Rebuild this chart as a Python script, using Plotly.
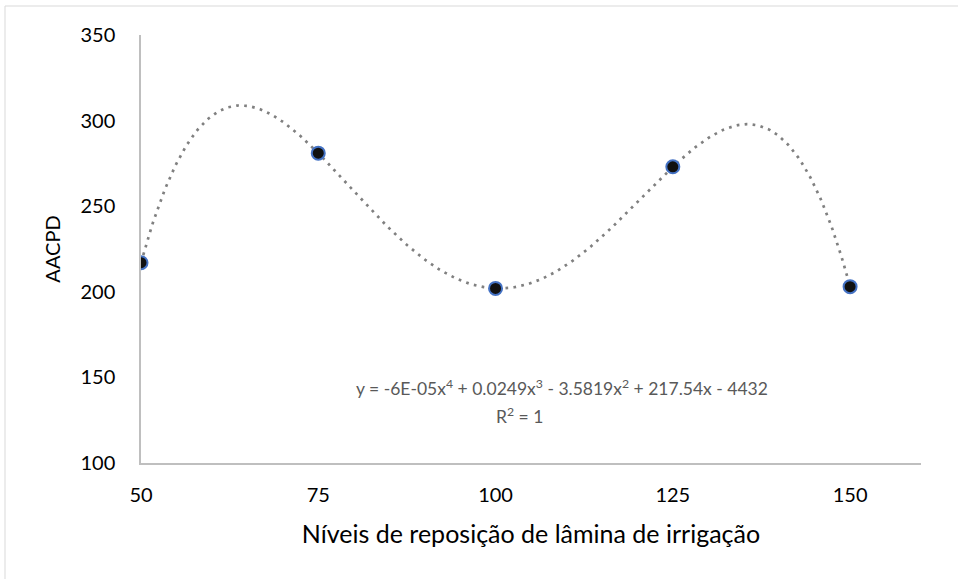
import numpy as np
import plotly.graph_objects as go

# Data
niveis = [50, 75, 100, 125, 150]
aacpd = [217, 281, 202, 273, 203]
y_ticks = [100, 150, 200, 250, 300, 350]
x_ticks = [50, 75, 100, 125, 150]

# Polynomial (order 4) trendline fitted from the data
coef = np.polyfit(niveis, aacpd, 4)
xs = np.linspace(50, 150, 400)
ys = np.polyval(coef, xs)

FONT = "Lato"
L, R, T, B = 141, 37, 35, 116
PW, PH = 958 - L - R, 579 - T - B

fig = go.Figure()
fig.add_trace(go.Scatter(x=xs, y=ys, mode="lines",
                         line=dict(color="#808080", width=2.7, dash="2.7px,5.3px"),
                         hoverinfo="skip", showlegend=False))
fig.add_trace(go.Scatter(x=niveis, y=aacpd, mode="markers",
                         marker=dict(size=13, color="#111111",
                                     line=dict(color="#4472C4", width=2)),
                         showlegend=False))

fig.update_layout(
    width=958, height=579,
    margin=dict(l=L, r=R, t=T, b=B),
    paper_bgcolor="white", plot_bgcolor="white",
    font=dict(family=FONT, size=20, color="#000000"),
    xaxis=dict(range=[50, 160], tickvals=x_ticks, ticktext=[str(v) for v in x_ticks],
               showgrid=False, zeroline=False, showline=True, linecolor="#BFBFBF",
               linewidth=1.5, ticks="", ticklabelstandoff=13, automargin=False,
               title=dict(text="Níveis de reposição de lâmina de irrigação",
                          font=dict(size=25), standoff=21)),
    yaxis=dict(range=[100, 350], tickvals=y_ticks, showgrid=False, zeroline=False,
               showline=True, linecolor="#BFBFBF", linewidth=1.5, ticks="",
               ticklabelstandoff=20, automargin=False,
               title=dict(text="AACPD", font=dict(size=20), standoff=14)),
    shapes=[
        dict(type="line", xref="paper", yref="paper",
             x0=(5 - L) / PW, x1=(960 - L) / PW, y0=1 + (T - 6) / PH, y1=1 + (T - 6) / PH,
             line=dict(color="#D9D9D9", width=1), layer="below"),
        dict(type="line", xref="paper", yref="paper",
             x0=(5 - L) / PW, x1=(5 - L) / PW, y0=1 + (T - 6) / PH, y1=-(582 - (T + PH)) / PH,
             line=dict(color="#D9D9D9", width=1), layer="below"),
    ],
    annotations=[
        dict(xref="paper", yref="paper", x=(562 - L) / PW, y=(T + PH - 387) / PH,
             text="y = -6E-05x<sup>4</sup> + 0.0249x<sup>3</sup> - 3.5819x<sup>2</sup> + 217.54x - 4432",
             showarrow=False, font=dict(size=17.5, color="#595959"), xanchor="center", yanchor="middle"),
        dict(xref="paper", yref="paper", x=(519 - L) / PW, y=(T + PH - 415) / PH,
             text="R<sup>2</sup> = 1", showarrow=False, font=dict(size=17.5, color="#595959"),
             xanchor="center", yanchor="middle"),
    ],
)

fig.write_html("out.html", config={"displayModeBar": False},
               post_script="document.body.style.margin='0';document.body.style.padding='0';")
